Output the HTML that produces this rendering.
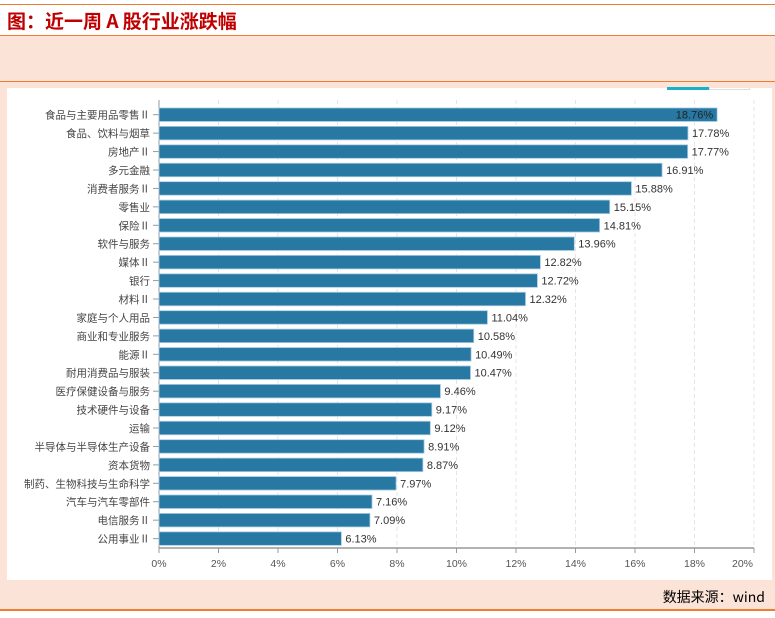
<!DOCTYPE html>
<html><head><meta charset="utf-8"><style>
body{margin:0;width:775px;height:618px;background:#fff;position:relative;overflow:hidden;font-family:"Liberation Sans","Noto Sans CJK SC",sans-serif}
.abs{position:absolute}
</style></head><body>
<div class="abs" style="left:0;top:4px;width:775px;height:1px;background:#ee7d31"></div>
<div class="abs" style="left:7px;top:8px;font-size:19px;font-weight:bold;color:#c00000;font-family:'Noto Sans CJK SC',sans-serif;line-height:26px">图：近一周 A 股行业涨跌幅</div>
<div class="abs" style="left:0;top:35px;width:775px;height:573px;background:#fbe3d7;border-top:1px solid #ee7d31;border-bottom:2px solid #ee7d31"></div>
<div class="abs" style="left:0;top:81px;width:775px;height:1px;background:#ee7d31"></div>
<div class="abs" style="left:7px;top:88px;width:765px;height:492px;background:#fff"></div>
<div class="abs" style="left:667px;top:87px;width:42px;height:3px;background:#1ab0c8"></div>
<div class="abs" style="left:709px;top:87px;width:41px;height:3px;border:1px solid #ddd;border-top:none;box-sizing:border-box"></div>
<svg class="abs" style="left:0;top:0" width="775" height="618" id="chart"></svg>
<div class="abs" style="right:10px;top:587px;font-size:14px;color:#000;font-family:'Noto Sans CJK SC',sans-serif">数据来源：wind</div>
<script>
const categories=["食品与主要用品零售Ⅱ","食品、饮料与烟草","房地产Ⅱ","多元金融","消费者服务Ⅱ","零售业","保险Ⅱ","软件与服务","媒体Ⅱ","银行","材料Ⅱ","家庭与个人用品","商业和专业服务","能源Ⅱ","耐用消费品与服装","医疗保健设备与服务","技术硬件与设备","运输","半导体与半导体生产设备","资本货物","制药、生物科技与生命科学","汽车与汽车零部件","电信服务Ⅱ","公用事业Ⅱ"];
const values=[18.76,17.78,17.77,16.91,15.88,15.15,14.81,13.96,12.82,12.72,12.32,11.04,10.58,10.49,10.47,9.46,9.17,9.12,8.91,8.87,7.97,7.16,7.09,6.13];
const ticks=[0,2,4,6,8,10,12,14,16,18,20];
const svg=document.getElementById('chart');
const NS='http://www.w3.org/2000/svg';
const x0=159,x1=754,xmax=20,yTop=105.5,step=18.43,bh=13.5,axisY=548;
const xs=v=>x0+(x1-x0)*v/xmax;
const yc=i=>yTop+step*i+step/2;
function mk(t,a){const e=document.createElementNS(NS,t);for(const k in a)e.setAttribute(k,a[k]);svg.appendChild(e);return e;}
ticks.forEach((t,i)=>{
  if(i>0){const g=mk('line',{x1:xs(t),x2:xs(t),y1:100,y2:axisY,stroke:'#e4e4e4','stroke-dasharray':'4,3'});
  
  }
  const tk=mk('line',{x1:xs(t),x2:xs(t),y1:axisY,y2:axisY+5,stroke:'#999'});
  
  
  const last=i===ticks.length-1;
  const tl=mk('text',{x:last?xs(t)-1:xs(t),y:axisY+19,'text-anchor':last?'end':'middle','font-size':10.5,fill:'#555'});
  tl.textContent=t+'%';
  
  
});
const ya=mk('line',{x1:x0,x2:x0,y1:100,y2:axisY,stroke:'#999'});


const xa=mk('line',{x1:x0,x2:x1,y1:axisY,y2:axisY,stroke:'#999','stroke-width':1.5});


categories.forEach((c,i)=>{
  const y=yc(i);
  const tk=mk('line',{x1:x0-6,x2:x0,y1:y,y2:y,stroke:'#999'});
  
  
  const l=mk('text',{x:x0-9,y:y+4,'text-anchor':'end','font-size':10.5,fill:'#444'});
  l.textContent=c;
  
  
  const b=mk('rect',{x:x0,y:y-bh/2,width:xs(values[i])-x0,height:bh,fill:'#2878a4',stroke:'#a9cbe0','stroke-width':0.8});
  
  
  const inside=values[i]>18.5;
  const v=mk('text',{x:inside?xs(values[i])-4:xs(values[i])+4,y:y+4,'text-anchor':inside?'end':'start','font-size':11,fill:inside?'#222':'#333'});
  v.textContent=values[i].toFixed(2)+'%';
  
  
});
</script>
</body></html>
